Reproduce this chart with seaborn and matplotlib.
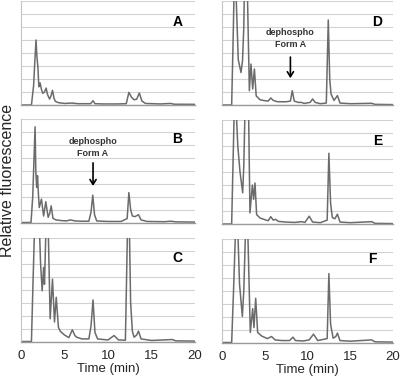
import matplotlib
matplotlib.use("Agg")
import matplotlib.pyplot as plt
import seaborn as sns

# ---------------------------------------------------------------
# Chromatogram traces (time in min, signal
# in grid units; the plot is clipped at 8 so off-scale peaks use 9)
# ---------------------------------------------------------------
t_A = [0, 1.2, 1.45, 1.6, 1.73, 1.82, 1.95, 2.05, 2.2, 2.35, 2.5, 2.7, 2.89, 3.05, 3.28, 3.45,
       3.62, 3.8, 3.95, 4.3, 5.0, 5.9, 6.5, 7.5, 8.0, 8.28, 8.5, 9.5, 11.0, 12.1, 12.4, 12.7,
       13.0, 13.3, 13.6, 13.9, 14.3, 16.0, 17.2, 17.6, 20]
y_A = [0, 0, 1.5, 3.5, 5.0, 3.8, 2.85, 1.4, 1.7, 1.2, 0.9, 1.0, 1.3, 0.8, 0.46, 0.7,
       1.13, 0.5, 0.28, 0.18, 0.12, 0.15, 0.1, 0.1, 0.1, 0.33, 0.1, 0.08, 0.08, 0.1, 0.97, 0.6,
       0.4, 0.45, 0.92, 0.3, 0.12, 0.08, 0.12, 0.06, 0.05]

t_B = [0, 1.15, 1.35, 1.5, 1.62, 1.7, 1.8, 1.9, 2.0, 2.1, 2.35, 2.6, 2.85, 3.12, 3.3, 3.47,
       3.67, 4.0, 4.6, 5.2, 5.7, 6.2, 7.0, 7.8, 8.05, 8.25, 8.45, 8.7, 10.0, 11.5, 12.2, 12.4,
       12.6, 12.8, 13.1, 13.5, 13.8, 14.5, 16.5, 17.2, 17.8, 20]
y_B = [0, 0, 2.0, 5.0, 7.36, 4.0, 2.7, 3.6, 2.2, 1.15, 1.8, 0.5, 1.6, 0.4, 0.7, 1.28,
       0.33, 0.2, 0.15, 0.12, 0.2, 0.12, 0.1, 0.1, 0.8, 2.1, 0.6, 0.12, 0.08, 0.08, 0.3, 2.3,
       1.0, 0.5, 0.45, 0.6, 0.2, 0.08, 0.06, 0.1, 0.05, 0.03]

t_C = [0, 1.2, 1.4, 1.57, 2.1, 2.25, 2.43, 2.6, 2.7, 2.88, 3.12, 3.35, 3.62, 3.85, 4.05, 4.3,
       4.5, 5.0, 5.5, 5.9, 6.2, 6.4, 7.0, 7.8, 8.05, 8.28, 8.5, 8.8, 9.5, 10.0, 10.7, 11.2,
       12.0, 12.25, 12.45, 12.6, 12.8, 13.0, 13.3, 13.5, 13.8, 15.0, 17.4, 17.8, 20]
y_C = [0, 0, 5, 9, 9, 6, 3.9, 5.7, 4.4, 9, 9, 1.75, 4.8, 1.5, 3.4, 1.1,
       0.8, 0.5, 0.3, 0.9, 0.45, 0.33, 0.2, 0.2, 1.2, 3.2, 0.7, 0.2, 0.15, 0.12, 0.46, 0.12,
       0.1, 9, 9, 3, 0.8, 0.33, 0.5, 0.8, 0.2, 0.08, 0.15, 0.05, 0.03]

t_D = [0, 1.13, 1.3, 1.42, 1.62, 1.9, 2.22, 2.4, 2.55, 2.62, 2.96, 3.2, 3.39, 3.59, 3.79, 4.0,
       4.45, 5.03, 5.4, 5.7, 6.0, 6.5, 7.5, 8.0, 8.22, 8.45, 8.9, 9.3, 9.6, 10.3, 10.6, 10.9,
       11.5, 12.2, 12.43, 12.6, 12.75, 13.1, 13.5, 13.8, 15.0, 17.5, 17.9, 20]
y_D = [0, 0, 5, 9, 9, 3.5, 2.5, 3.4, 6, 9, 9, 1.1, 3.15, 1.23, 2.77, 0.7,
       0.4, 0.33, 0.3, 0.54, 0.35, 0.25, 0.25, 0.3, 1.1, 0.3, 0.2, 0.2, 0.12, 0.2, 0.46, 0.2,
       0.1, 0.15, 6.54, 2.0, 0.85, 0.35, 0.72, 0.15, 0.1, 0.13, 0.05, 0.03]

t_E = [0, 1.13, 1.3, 1.44, 1.64, 1.85, 2.1, 2.42, 2.55, 2.7, 3.1, 3.27, 3.55, 3.7, 3.86, 4.05,
       4.45, 5.03, 5.4, 5.7, 6.0, 6.25, 6.6, 7.5, 8.5, 9.3, 9.7, 10.2, 10.6, 11.5, 12.3, 12.5,
       12.7, 12.9, 13.2, 13.5, 13.8, 15.0, 17.5, 17.9, 20]
y_E = [0, 0, 5, 9, 9, 6, 4.05, 2.4, 4.5, 9, 9, 0.85, 3.0, 1.9, 3.15, 0.72,
       0.46, 0.33, 0.25, 0.56, 0.3, 0.36, 0.2, 0.15, 0.12, 0.18, 0.12, 0.6, 0.15, 0.1, 0.3, 5.44,
       1.6, 0.5, 0.4, 0.75, 0.15, 0.1, 0.18, 0.05, 0.03]

t_F = [0, 1.13, 1.35, 1.6, 1.83, 2.05, 2.38, 2.55, 2.77, 3.0, 3.31, 3.59, 3.74, 3.94, 4.17, 4.64,
       5.3, 5.8, 6.2, 7.0, 7.9, 8.3, 8.6, 9.5, 10.2, 10.7, 11.2, 12.3, 12.5, 12.7, 13.0, 13.3,
       13.5, 13.8, 15.0, 17.5, 17.9, 20]
y_F = [0, 0, 4, 9, 9, 4.5, 2.0, 4.0, 9, 9, 0.77, 2.6, 1.15, 3.4, 0.77, 0.5,
       0.3, 0.46, 0.2, 0.15, 0.15, 0.41, 0.15, 0.12, 0.2, 0.64, 0.15, 0.3, 5.3, 1.4, 0.33, 0.45,
       0.72, 0.15, 0.1, 0.2, 0.05, 0.03]

panel_letters = ["A", "B", "C", "D", "E", "F"]
traces = [(t_A, y_A), (t_B, y_B), (t_C, y_C), (t_D, y_D), (t_E, y_E), (t_F, y_F)]
x_ticks = [0, 5, 10, 15, 20]

# -----------------------------------------
# Style
# -----------------------------------------
sns.set_style("white")
plt.rcParams["font.family"] = ["Liberation Sans", "DejaVu Sans"]

fig = plt.figure(figsize=(4, 3.78), dpi=100)

# axes boxes in pixels: (left, bottom-from-top, width)
W, H = 400, 378
boxes = [
    (21, 105, 174), (21, 222.5, 174), (21, 341.5, 174),
    (222, 105, 171), (222, 224, 171), (222, 342.5, 171),
]
panel_h = 104

line_color = "#6b6b6b"

axes = []
for i, ((t, y), letter, (lx, by, w)) in enumerate(zip(traces, panel_letters, boxes)):
    ax = fig.add_axes([lx / W, 1 - by / H, w / W, panel_h / H])
    sns.lineplot(x=t, y=y, ax=ax, color=line_color, linewidth=1.1, estimator=None)

    ax.set_xlim(0, 20)
    ax.set_ylim(0, 8)
    ax.set_yticks(range(0, 9))
    ax.set_xticks(x_ticks)
    ax.yaxis.grid(True, color="#d2d2d2", linewidth=0.8)
    ax.set_axisbelow(True)

    for side in ["top", "right"]:
        ax.spines[side].set_visible(False)
    ax.spines["left"].set_color("#c4c4c4")
    ax.spines["left"].set_linewidth(0.8)
    ax.spines["bottom"].set_color("#9a9a9a")
    ax.spines["bottom"].set_linewidth(1.0)

    ax.tick_params(axis="y", labelleft=False, length=2.5, color="#c4c4c4", width=0.8)
    bottom_row = letter in ("C", "F")
    ax.tick_params(axis="x", length=2, color="#9a9a9a", width=0.8,
                   labelbottom=bottom_row, labelsize=9.5, pad=4)
    if bottom_row:
        ax.set_xlabel("Time (min)", fontsize=9.5, labelpad=1)
    else:
        ax.set_xlabel("")
    ax.set_ylabel("")

    fx = 0.88 if letter == "F" else (0.91 if letter in ("D", "E") else 0.9)
    ax.text(fx, 0.8, letter, transform=ax.transAxes, ha="center", va="center",
            fontsize=10, fontweight="bold", color="black")
    axes.append(ax)

# -----------------------------------------
# "dephospho Form A" arrows in B and D
# -----------------------------------------
notes = {1: (8.28, 5.8, 4.8, 2.6), 3: (8.0, 5.1, 3.9, 1.85)}
for idx, (xn, ytext, ytail, yhead) in notes.items():
    ax = axes[idx]
    ax.text(xn, ytext, "dephospho\nForm A", ha="center", va="center",
            fontsize=6.5, fontweight="bold", color="#333333", linespacing=1.45)
    ax.annotate("", xy=(xn, yhead), xytext=(xn, ytail),
                arrowprops=dict(arrowstyle="->,head_length=0.35,head_width=0.22",
                                color="black", lw=1.2))

fig.text(8 / W, 1 - 180 / H, "Relative fluorescence", rotation=90,
         ha="center", va="center", fontsize=11.5)

plt.savefig("out.png", dpi=100)
